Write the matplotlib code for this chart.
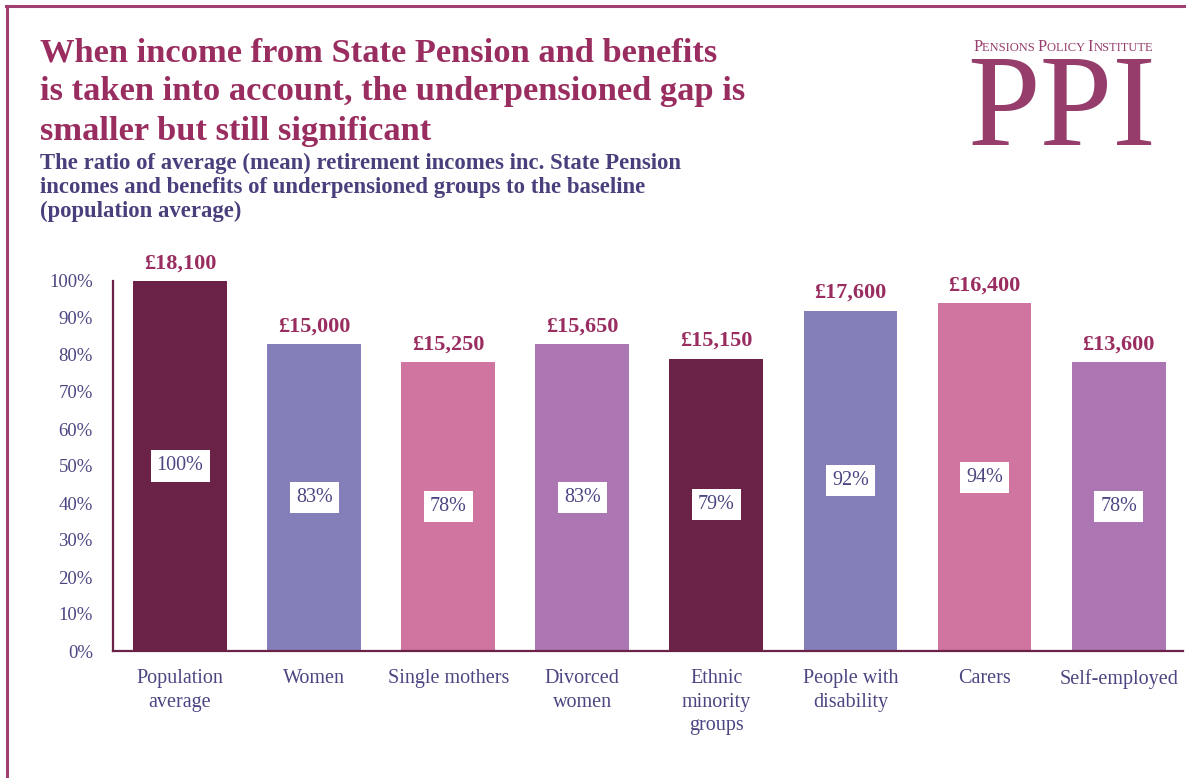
import matplotlib
matplotlib.use("Agg")
import matplotlib.pyplot as plt
from matplotlib.lines import Line2D

categories = ["Population\naverage", "Women", "Single mothers", "Divorced\nwomen",
              "Ethnic\nminority\ngroups", "People with\ndisability", "Carers", "Self-employed"]
ratio_pct = [100, 83, 78, 83, 79, 92, 94, 78]
income_labels = ["£18,100", "£15,000", "£15,250", "£15,650",
                 "£15,150", "£17,600", "£16,400", "£13,600"]
yticks = [0, 10, 20, 30, 40, 50, 60, 70, 80, 90, 100]

bar_colors = ["#6A2246", "#857FB9", "#D074A0", "#AC76B2",
              "#6A2246", "#857FB9", "#D074A0", "#AC76B2"]
TITLE_C = "#9A2D60"
SUB_C = "#4A3F7C"
TICK_C = "#4B4682"
AXIS_C = "#6A2246"
FRAME_C = "#A03E70"
SERIF = ["Liberation Serif", "DejaVu Serif"]

W, H = 1186, 778
fig = plt.figure(figsize=(W / 100, H / 100), dpi=100)
fig.patch.set_facecolor("white")

# page frame: top rule and left rule
fig.add_artist(Line2D([6 / W, 1], [1 - 6 / H, 1 - 6 / H], color=FRAME_C, lw=2.2,
                      transform=fig.transFigure))
fig.add_artist(Line2D([7 / W, 7 / W], [0, 1 - 6 / H], color=FRAME_C, lw=2.2,
                      transform=fig.transFigure))

ax = fig.add_axes([113 / W, 1 - 651 / H, (1183 - 113) / W, (651 - 281) / H])
x = list(range(len(categories)))
bars = ax.bar(x, ratio_pct, width=0.7, color=bar_colors, zorder=2)
ax.set_xlim(-0.5, 7.48)
ax.set_ylim(0, 100)

for s in ["top", "right"]:
    ax.spines[s].set_visible(False)
for s in ["left", "bottom"]:
    ax.spines[s].set_color(AXIS_C)
    ax.spines[s].set_linewidth(1.6)

ax.set_yticks(yticks)
ax.set_yticklabels([f"{v}%" for v in yticks], family=SERIF, fontsize=13.5, color=TICK_C)
ax.set_xticks(x)
ax.set_xticklabels(categories, family=SERIF, fontsize=14.5, color=TICK_C, linespacing=1.32,
                   va="top")
ax.tick_params(axis="y", length=0, pad=14.5)
ax.tick_params(axis="x", length=0, pad=13)

for xi, v, lab in zip(x, ratio_pct, income_labels):
    ax.annotate(lab, (xi, v), xytext=(0, 5.5), textcoords="offset points",
                ha="center", va="bottom", family=SERIF, fontsize=16, fontweight="bold",
                color=TITLE_C, clip_on=False)
    ax.text(xi, v / 2, f"{v}%", ha="center", va="center", family=SERIF, fontsize=14.5,
            color=TICK_C, zorder=3,
            bbox=dict(boxstyle="square,pad=0.3", facecolor="white", edgecolor="none"))

# headline and subheading
fig.text(40 / W, 1 - 37 / H,
         "When income from State Pension and benefits\n"
         "is taken into account, the underpensioned gap is\n"
         "smaller but still significant",
         family=SERIF, fontsize=24.8, fontweight="bold", color=TITLE_C,
         va="top", ha="left", linespacing=1.35)
fig.text(40 / W, 1 - 153 / H,
         "The ratio of average (mean) retirement incomes inc. State Pension\n"
         "incomes and benefits of underpensioned groups to the baseline\n"
         "(population average)",
         family=SERIF, fontsize=16.4, fontweight="bold", color=SUB_C,
         va="top", ha="left", linespacing=1.16)

# institute mark, top right
LOGO_C = "#963D6B"
fig.canvas.draw()
renderer = fig.canvas.get_renderer()
pieces = [("P", 11.8), ("ENSIONS ", 9), ("P", 11.8), ("OLICY ", 9), ("I", 11.8), ("NSTITUTE", 9)]
xpos = 973
for txt, fs in pieces:
    t = fig.text(xpos / W, 1 - 51 / H, txt, family=SERIF, fontsize=fs, color=LOGO_C,
                 ha="left", va="baseline")
    bb = t.get_window_extent(renderer)
    xpos += bb.width
fig.text(1062 / W, 1 - 145 / H, "PPI", family=SERIF, fontsize=94, color=LOGO_C,
         ha="center", va="baseline")

fig.savefig("out.png", dpi=100, facecolor="white")
